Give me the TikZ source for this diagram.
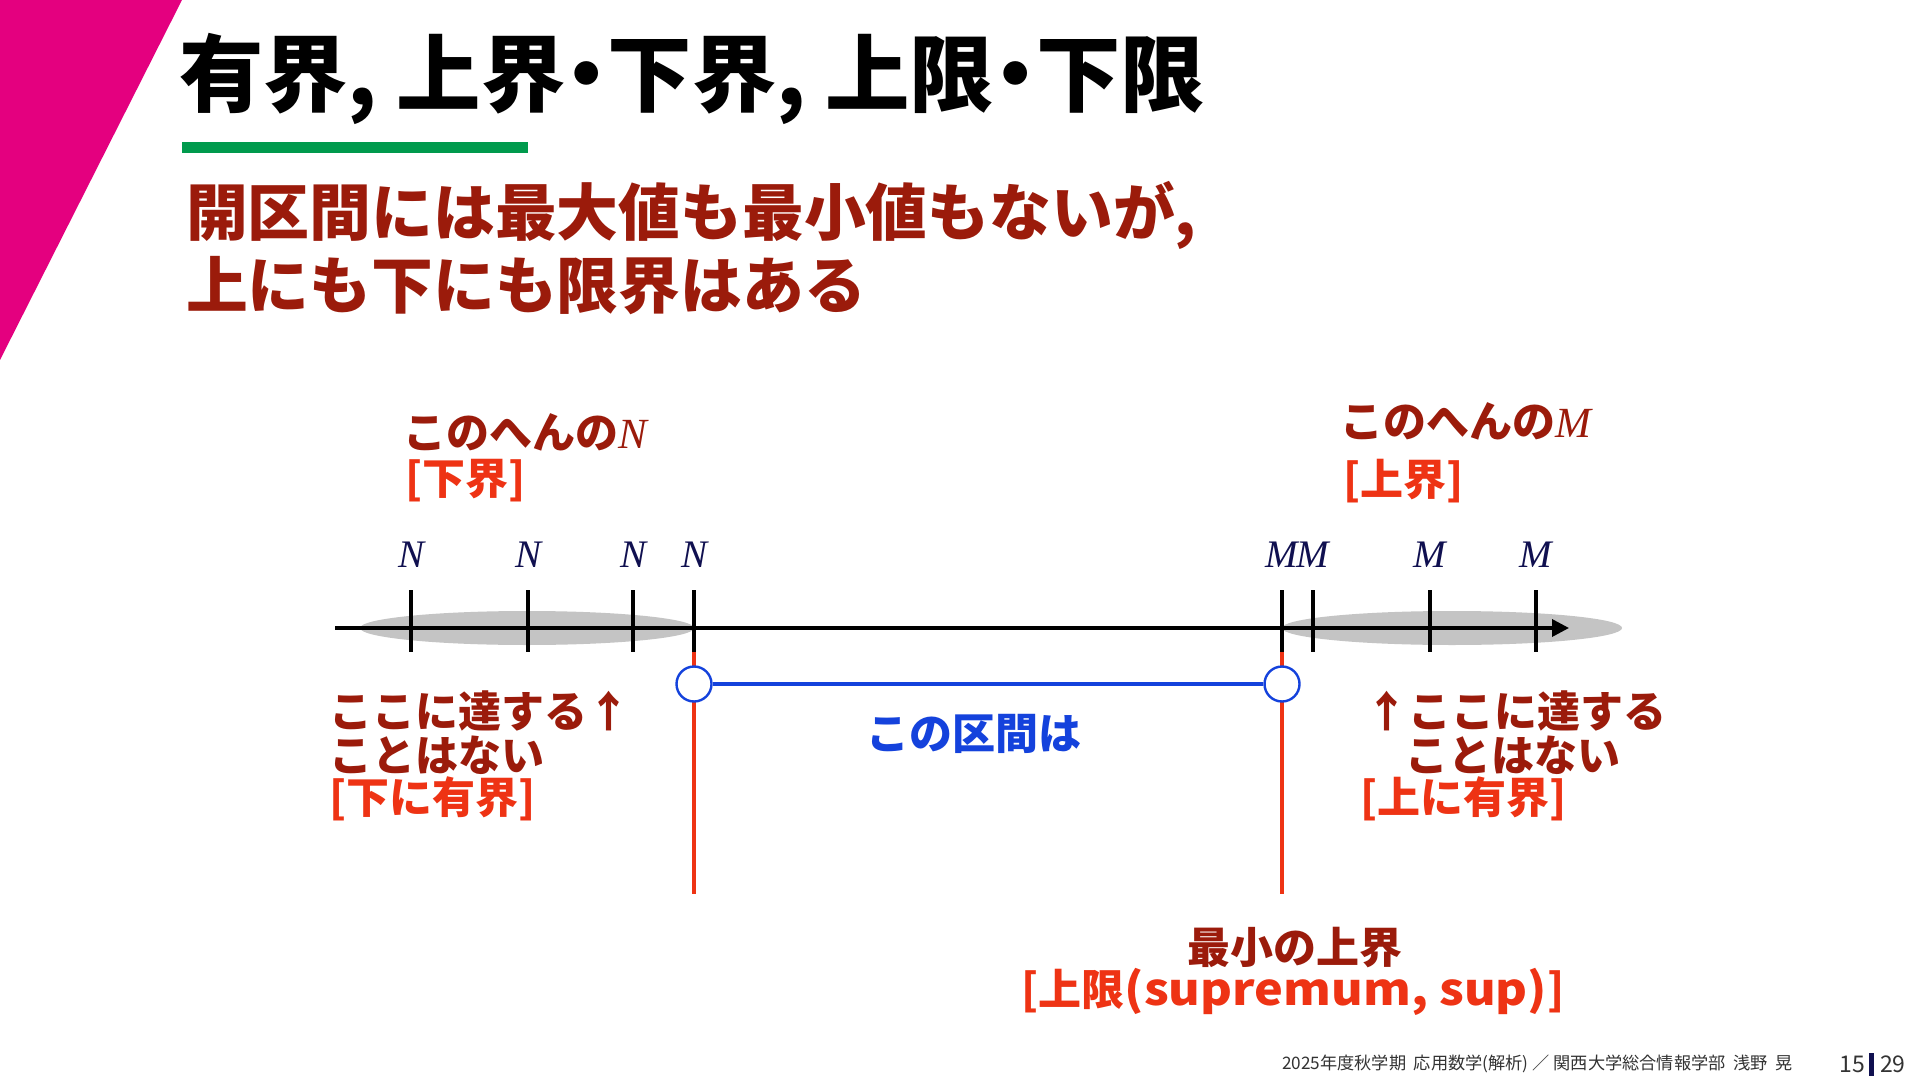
\documentclass[tikz,border=0pt]{standalone}
\usepackage{fontspec}
\usepackage{graphicx}
\setmainfont{Noto Sans CJK JP}
\newfontfamily\jptitle{Noto Sans CJK JP}[RawFeature=+palt]
\newfontfamily\serifit{Liberation Serif}
\usetikzlibrary{arrows.meta}
\definecolor{mag}{HTML}{E4007F}
\definecolor{grn}{HTML}{009A4D}
\definecolor{dred}{HTML}{9B1B0B}
\definecolor{ored}{HTML}{EE3314}
\definecolor{blu}{HTML}{1442DC}
\definecolor{nav}{HTML}{101050}
\definecolor{ell}{HTML}{C4C4C4}
\definecolor{foot}{HTML}{333333}
\tikzset{
  txt/.style={inner sep=0pt, outer sep=0pt},
  lab/.style={txt, anchor=west, font=\fontsize{21.5}{21.5}\selectfont\bfseries},
  var/.style={txt, text=nav, font=\fontsize{19.5}{19.5}\selectfont\serifit\itshape},
  tickline/.style={line width=2pt, black},
  redline/.style={line width=1.6pt, ored},
  blueline/.style={line width=1.7pt, blu},
  openc/.style={circle, draw=blu, line width=1.2pt, fill=white, minimum size=17.5pt, inner sep=0pt},
}
\begin{document}
\begin{tikzpicture}[x=0.5pt,y=-0.5pt]
\useasboundingbox (0,0) rectangle (1920,1080);
\fill[white] (0,0) rectangle (1920,1080);
% corner band and title
\fill[mag] (0,0) -- (182,0) -- (0,360) -- cycle;
\node[txt, anchor=west, font=\fontsize{42.2}{42.2}\selectfont\jptitle\bfseries] (title) at (179,79) {有界, 上界・下界, 上限・下限};
\fill[grn] (182,142) rectangle (528,153);
% subtitle
\node[txt, anchor=west, text=dred, font=\fontsize{30.9}{30.9}\selectfont\bfseries] (sub1) at (186,215) {開区間には最大値も最小値もないが,};
\node[txt, anchor=west, text=dred, font=\fontsize{30.9}{30.9}\selectfont\bfseries] (sub2) at (186,286) {上にも下にも限界はある};
% shaded regions
\fill[ell] (527,628) ellipse [x radius=83.5pt, y radius=8.5pt];
\fill[ell] (1452,628) ellipse [x radius=85pt, y radius=8.5pt];
% axis
\coordinate (axs) at (335,628);
\coordinate (axe) at (1569,628);
\draw[line width=1.75pt, -{Triangle[length=8.5pt,width=8.5pt]}] (axs) -- (axe);
% ticks
\foreach \x in {411,528,633,694,1282,1313,1430,1536}
  \draw[tickline] (\x,590) -- (\x,652);
% tick labels
\node[var] (n1) at (411,555) {N};
\node[var] (n2) at (528,555) {N};
\node[var] (n3) at (633,555) {N};
\node[var] (n4) at (694,555) {N};
\node[var] (m1) at (1282,555) {M};
\node[var] (m2) at (1313,555) {M};
\node[var] (m3) at (1430,555) {M};
\node[var] (m4) at (1536,555) {M};
% upper labels
\node[lab, text=dred] (lowN) at (403,432) {このへんの{\mdseries\serifit\itshape N}};
\node[lab, text=ored] (lowB) at (405,481) {[下界]};
\node[lab, text=dred] (upM) at (1340,421) {このへんの{\mdseries\serifit\itshape M}};
\node[lab, text=ored] (upB) at (1343,481) {[上界]};
% red verticals
\coordinate (rl1) at (694,652);
\coordinate (rl1b) at (694,894);
\coordinate (rl2) at (1282,652);
\coordinate (rl2b) at (1282,894);
\draw[redline] (rl1) -- (rl1b);
\draw[redline] (rl2) -- (rl2b);
% open interval
\node[openc] (c1) at (694,684) {};
\node[openc] (c2) at (1282,684) {};
\draw[blueline] (c1) -- (c2);
\node[lab, text=blu] (intv) at (866,734) {この区間は};
% lower left
\node[lab, text=dred] (l1) at (329,711) {ここに達する↑};
\node[lab, text=dred] (l2) at (329,755) {ことはない};
\node[lab, text=ored] (l3) at (329,799) {[下に有界]};
% lower right
\node[lab, text=dred] (r1) at (1365,711) {↑ここに達する};
\node[lab, text=dred] (r2) at (1405,755) {ことはない};
\node[lab, text=ored] (r3) at (1360,799) {[上に有界]};
% supremum
\node[lab, anchor=center, text=dred] (sup1) at (1295,948) {最小の上界};
\node[lab, anchor=center, text=ored] (sup2) at (1293,992) {[上限\scalebox{1.13}[1.03]{(supremum, sup)}]};
% footer
\node[txt, anchor=west, text=foot, font=\fontsize{8.6}{8.6}\selectfont] (foot) at (1282,1064) {2025年度秋学期\ \ 応用数学(解析)\ ／\ 関西大学総合情報学部\ \ 浅野\ \ 晃};
\node[txt, anchor=east, text=foot, font=\fontsize{11.5}{11.5}\selectfont] (pg) at (1865,1064) {15};
\fill[nav] (1869,1053) rectangle (1874,1076);
\node[txt, anchor=west, text=foot, font=\fontsize{11.5}{11.5}\selectfont] (tot) at (1880,1064) {29};
\end{tikzpicture}
\end{document}
